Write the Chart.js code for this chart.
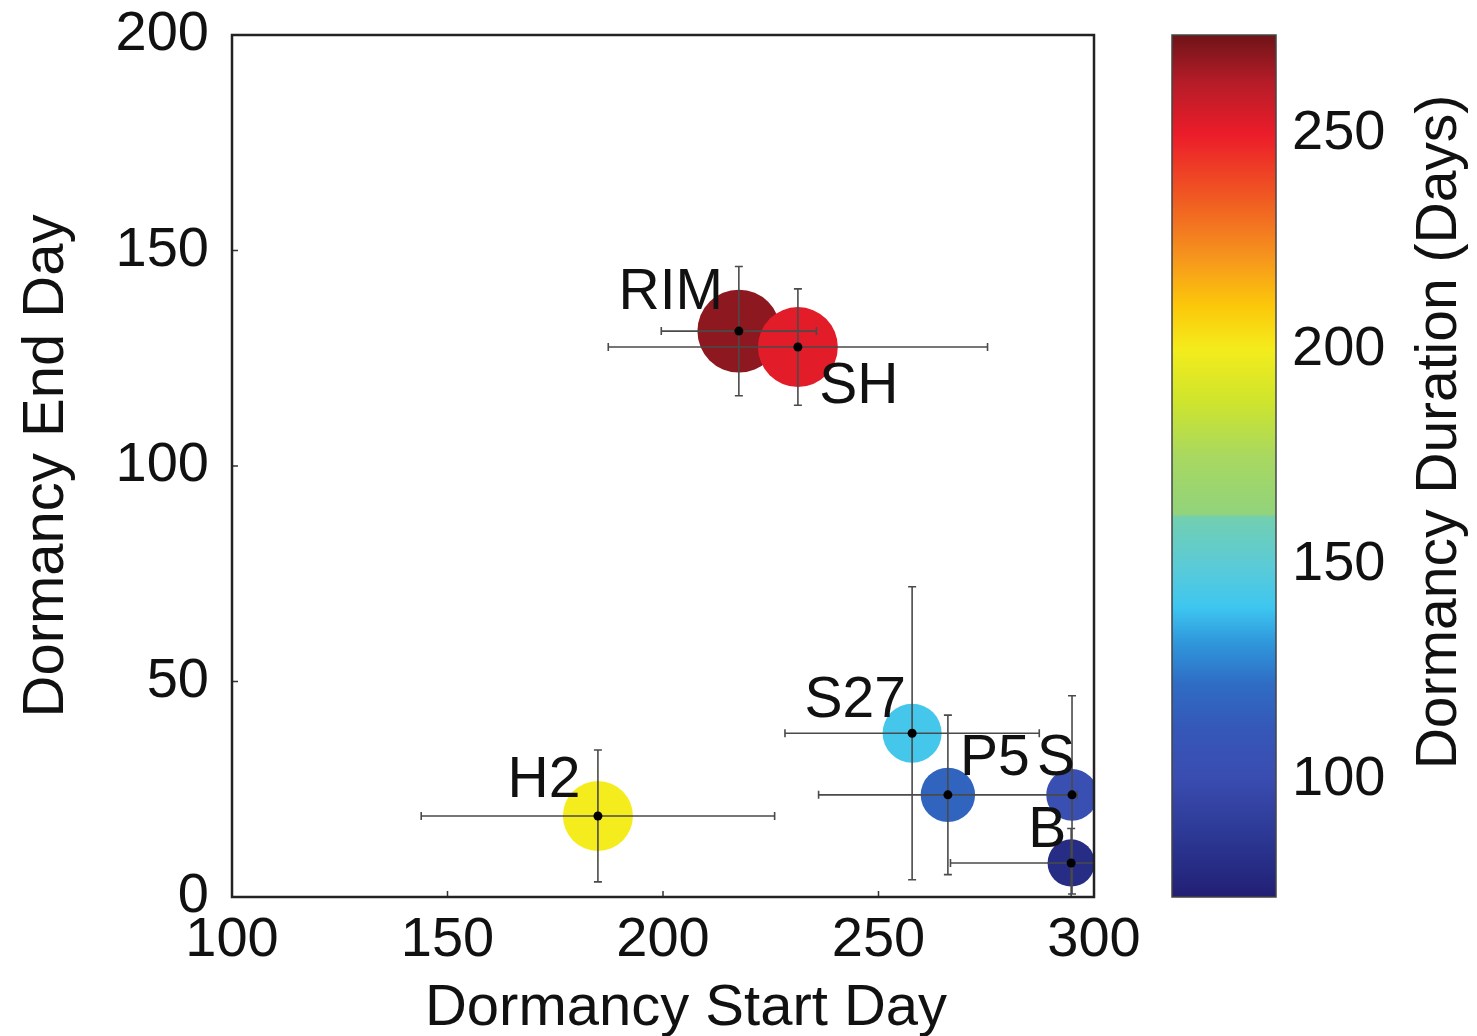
<!DOCTYPE html>
<html>
<head>
<meta charset="utf-8">
<script src="https://cdn.jsdelivr.net/npm/chart.js@4.4.0/dist/chart.umd.min.js"></script>
<style>
  html, body { margin: 0; padding: 0; background: #fff; }
</style>
</head>
<body>
<canvas id="dormancy" width="1477" height="1036"></canvas>
<script>
// site data
const sites     = ['RIM', 'SH', 'H2', 'S27', 'P5', 'S', 'B'];
const startDay  = [217.6, 231.3, 184.9, 257.8, 266.1, 294.9, 294.7];
const endDay    = [131.3, 127.6, 18.8, 38.0, 23.7, 23.7, 7.9];
const startErr  = [18, 44, 41, 29.5, 30, 0, 28];
const endErr    = [15, 13.5, 15.3, 34, 18.5, 23, 8];
const duration  = [268, 252, 200, 142, 118, 103, 80];

const xTicks   = [100, 150, 200, 250, 300];
const yTicks   = [0, 50, 100, 150, 200];
const durTicks = [100, 150, 200, 250];
const durMin = 72.7, durMax = 273;

// colour map for duration (value, colour)
const cmap = [
  [72.7, '#221f74'], [85, '#2a3590'], [100, '#3a4cb0'], [112, '#3558b8'],
  [122, '#2f6cc4'], [132, '#2f98dc'], [140, '#3ec6f0'], [150, '#5ccbd6'],
  [161, '#72cfb0'], [161.6, '#92d37c'], [175, '#a8d860'], [188, '#cfe52c'],
  [200, '#f4ec1c'], [210, '#fcc80a'], [222, '#f6921e'], [235, '#f05a22'],
  [250, '#ec1c2a'], [262, '#b51c28'], [273, '#6e1418']
];

function hexRgb(h) {
  return [1, 3, 5].map(i => parseInt(h.substr(i, 2), 16));
}
function colorFor(v) {
  if (v <= cmap[0][0]) return cmap[0][1];
  for (let i = 1; i < cmap.length; i++) {
    if (v <= cmap[i][0]) {
      const [v0, c0] = cmap[i - 1], [v1, c1] = cmap[i];
      const t = (v - v0) / (v1 - v0);
      const a = hexRgb(c0), b = hexRgb(c1);
      const c = a.map((x, k) => Math.round(x + (b[k] - x) * t));
      return 'rgb(' + c.join(',') + ')';
    }
  }
  return cmap[cmap.length - 1][1];
}
// bubble size grows with duration
function radiusFor(d) { return 16 + 0.095 * d; }

const FONT = 'Liberation Sans, Arial, sans-serif';
const labelOffset = {
  RIM: [-68, -38], SH: [61, 40], H2: [-54, -35], S27: [-57, -32],
  P5: [47, -36], S: [-16, -36], B: [-24, -32]
};

// fixed box sizes, no extra label padding
function fixSize(prop, size) {
  return s => {
    s[prop] = size;
    s.paddingTop = s.paddingBottom = s.paddingLeft = s.paddingRight = 0;
  };
}

const overlay = {
  id: 'overlay',
  afterDatasetsDraw(chart) {
    const {ctx, chartArea: a, scales: {x, y}} = chart;
    ctx.save();
    ctx.beginPath();
    ctx.rect(a.left, a.top, a.right - a.left, a.bottom - a.top);
    ctx.clip();
    ctx.strokeStyle = '#4a4a4a';
    ctx.lineWidth = 1.6;
    const cap = 4;
    sites.forEach((s, i) => {
      const px = x.getPixelForValue(startDay[i]);
      const py = y.getPixelForValue(endDay[i]);
      ctx.beginPath();
      if (startErr[i] > 0) {
        const x0 = x.getPixelForValue(startDay[i] - startErr[i]);
        const x1 = x.getPixelForValue(startDay[i] + startErr[i]);
        ctx.moveTo(x0, py); ctx.lineTo(x1, py);
        ctx.moveTo(x0, py - cap); ctx.lineTo(x0, py + cap);
        ctx.moveTo(x1, py - cap); ctx.lineTo(x1, py + cap);
      }
      if (endErr[i] > 0) {
        const y0 = y.getPixelForValue(endDay[i] - endErr[i]);
        const y1 = y.getPixelForValue(endDay[i] + endErr[i]);
        ctx.moveTo(px, y0); ctx.lineTo(px, y1);
        ctx.moveTo(px - cap, y0); ctx.lineTo(px + cap, y0);
        ctx.moveTo(px - cap, y1); ctx.lineTo(px + cap, y1);
      }
      ctx.stroke();
      ctx.fillStyle = '#000';
      ctx.beginPath();
      ctx.arc(px, py, 4.5, 0, Math.PI * 2);
      ctx.fill();
    });
    ctx.restore();

    // site names
    ctx.save();
    ctx.font = '57px ' + FONT;
    ctx.fillStyle = '#111';
    ctx.textAlign = 'center';
    ctx.textBaseline = 'middle';
    sites.forEach((s, i) => {
      const px = x.getPixelForValue(startDay[i]);
      const py = y.getPixelForValue(endDay[i]);
      const [dx, dy] = labelOffset[s];
      ctx.fillText(s, px + dx, py + dy);
    });
    ctx.restore();
  },
  afterDraw(chart) {
    const {ctx, chartArea: a, scales: {x, y, dur}} = chart;
    ctx.save();
    // inward tick marks
    ctx.strokeStyle = '#333';
    ctx.lineWidth = 1.5;
    ctx.beginPath();
    xTicks.forEach(v => {
      const px = x.getPixelForValue(v);
      ctx.moveTo(px, a.bottom); ctx.lineTo(px, a.bottom - 6);
    });
    yTicks.forEach(v => {
      const py = y.getPixelForValue(v);
      ctx.moveTo(a.left, py); ctx.lineTo(a.left + 6, py);
    });
    ctx.stroke();
    // frame
    ctx.strokeStyle = '#222';
    ctx.lineWidth = 2.5;
    ctx.strokeRect(a.left, a.top, a.right - a.left, a.bottom - a.top);

    // x axis title, set a little right of centre
    ctx.font = '58px ' + FONT;
    ctx.fillStyle = '#111';
    ctx.textAlign = 'center';
    ctx.textBaseline = 'alphabetic';
    ctx.fillText('Dormancy Start Day', (a.left + a.right) / 2 + 23, 1025);

    // colour bar
    const cbL = a.right + 78, cbW = 104;
    const top = dur.getPixelForValue(durMax), bot = dur.getPixelForValue(durMin);
    const g = ctx.createLinearGradient(0, bot, 0, top);
    cmap.forEach(([v, c]) => {
      g.addColorStop(Math.min(1, Math.max(0, (v - durMin) / (durMax - durMin))), c);
    });
    ctx.fillStyle = g;
    ctx.fillRect(cbL, top, cbW, bot - top);
    ctx.strokeStyle = '#444';
    ctx.lineWidth = 1.5;
    ctx.strokeRect(cbL, top, cbW, bot - top);

    // colour bar title
    ctx.translate(1440, 432);
    ctx.rotate(-Math.PI / 2);
    ctx.font = '57px ' + FONT;
    ctx.fillStyle = '#111';
    ctx.textAlign = 'center';
    ctx.textBaseline = 'middle';
    ctx.fillText('Dormancy Duration (Days)', 0, 0);
    ctx.restore();
  }
};

const tickFont = {family: FONT, size: 56};
const titleFont = {family: FONT, size: 58};

const config = {
  type: 'bubble',
  data: {
    datasets: [{
      data: sites.map((s, i) => ({x: startDay[i], y: endDay[i], r: radiusFor(duration[i])})),
      backgroundColor: duration.map(colorFor),
      borderWidth: 0,
      hoverRadius: 0,
      clip: 0
    }]
  },
  options: {
    responsive: false,
    animation: false,
    devicePixelRatio: 1,
    layout: { autoPadding: false, padding: {top: 35, left: 0, right: 0, bottom: 0} },
    plugins: {
      legend: { display: false },
      tooltip: { enabled: false }
    },
    scales: {
      x: {
        type: 'linear', min: 100, max: 300,
        afterBuildTicks: s => { s.ticks = xTicks.map(v => ({value: v})); },
        afterFit: fixSize('height', 139),
        grid: { display: false },
        border: { display: false },
        ticks: { font: tickFont, color: '#111', padding: 2, maxRotation: 0 }
      },
      y: {
        type: 'linear', min: 0, max: 200,
        afterBuildTicks: s => { s.ticks = yTicks.map(v => ({value: v})); },
        afterFit: fixSize('width', 232),
        grid: { display: false },
        border: { display: false },
        ticks: { font: tickFont, color: '#111', padding: 15 },
        title: { display: true, text: 'Dormancy End Day', font: titleFont, color: '#111', padding: {top: 12, bottom: 0} }
      },
      dur: {
        type: 'linear', position: 'right', axis: 'y', min: durMin, max: durMax,
        afterBuildTicks: s => { s.ticks = durTicks.map(v => ({value: v})); },
        afterFit: fixSize('width', 383),
        grid: { display: false },
        border: { display: false },
        ticks: { font: tickFont, color: '#111', padding: 190 }
      }
    }
  },
  plugins: [overlay]
};

new Chart(document.getElementById('dormancy'), config);
</script>
</body>
</html>
